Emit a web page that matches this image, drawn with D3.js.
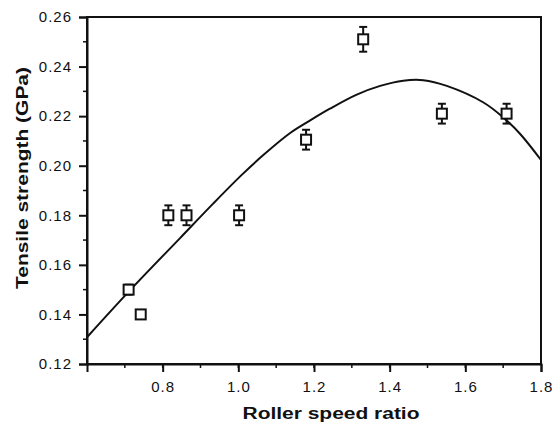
<!DOCTYPE html>
<html>
<head>
<meta charset="utf-8">
<script src="https://cdn.jsdelivr.net/npm/d3@7"></script>
<style>
  html, body { margin: 0; padding: 0; background: #fff; }
  svg { display: block; }
  .tick text { font-family: "Liberation Sans", Arial, sans-serif; letter-spacing: 1px; }
</style>
</head>
<body>
<svg id="chart" width="557" height="425"></svg>
<script>
// Measured tensile strength vs roller speed ratio
const speedRatio = [0.71, 0.742, 0.815, 0.863, 1.002, 1.179, 1.330, 1.538, 1.709];
const strength   = [0.150, 0.140, 0.180, 0.180, 0.180, 0.2105, 0.251, 0.221, 0.221];
const strengthErr = [0.002, 0, 0.004, 0.004, 0.004, 0.004, 0.005, 0.004, 0.004];

// Fitted trend curve, sampled along its length
const fitX = [0.60, 0.714, 0.846, 0.934, 1.009, 1.066, 1.137, 1.189, 1.242, 1.313, 1.375, 1.436, 1.489, 1.551, 1.648, 1.700, 1.745, 1.80];
const fitY = [0.1308, 0.1498, 0.1708, 0.1848, 0.1963, 0.2043, 0.2132, 0.2182, 0.2230, 0.2287, 0.2322, 0.2343, 0.2345, 0.2322, 0.2255, 0.2195, 0.2128, 0.2023];

const xTicks = [0.8, 1.0, 1.2, 1.4, 1.6, 1.8];
const yTicks = [0.12, 0.14, 0.16, 0.18, 0.20, 0.22, 0.24, 0.26];

const margin = { left: 87, right: 16, top: 17, bottom: 61 };
const W = 557, H = 425;
const svg = d3.select("#chart");

const x = d3.scaleLinear().domain([0.6, 1.8]).range([margin.left, W - margin.right]);
const y = d3.scaleLinear().domain([0.12, 0.26]).range([H - margin.bottom, margin.top]);

const ink = "#111";

// frame
svg.append("rect")
  .attr("x", x(0.6)).attr("y", y(0.26))
  .attr("width", x(1.8) - x(0.6)).attr("height", y(0.12) - y(0.26))
  .attr("fill", "none").attr("stroke", ink).attr("stroke-width", 2);

// minor ticks
const xMinor = d3.range(0.7, 1.8, 0.1);
svg.append("g").selectAll("line").data(xMinor).join("line")
  .attr("x1", d => x(d)).attr("x2", d => x(d))
  .attr("y1", y(0.12)).attr("y2", y(0.12) + 4)
  .attr("stroke", ink).attr("stroke-width", 1.5);
const yMinor = d3.range(0.13, 0.26, 0.02);
svg.append("g").selectAll("line").data(yMinor).join("line")
  .attr("x1", x(0.6) - 4).attr("x2", x(0.6))
  .attr("y1", d => y(d)).attr("y2", d => y(d))
  .attr("stroke", ink).attr("stroke-width", 1.5);

// axes
const xAxis = d3.axisBottom(x).tickValues(xTicks).tickFormat(d3.format(".1f")).tickSize(8).tickPadding(9);
const gx = svg.append("g").attr("transform", `translate(0,${y(0.12)})`).call(xAxis);
const yAxis = d3.axisLeft(y).tickValues(yTicks).tickFormat(d3.format(".2f")).tickSize(8).tickPadding(7);
const gy = svg.append("g").attr("transform", `translate(${x(0.6)},0)`).call(yAxis);
[gx, gy].forEach(g => {
  g.select(".domain").attr("stroke", ink).attr("stroke-width", 2);
  g.selectAll(".tick line").attr("stroke", ink).attr("stroke-width", 2);
  g.selectAll(".tick text").attr("fill", ink).attr("font-size", 15);
});

// axis titles
svg.append("text")
  .attr("x", 331).attr("y", 419)
  .attr("text-anchor", "middle")
  .attr("font-family", "Liberation Sans, Arial, sans-serif")
  .attr("font-weight", "bold").attr("font-size", 16)
  .attr("textLength", 177).attr("lengthAdjust", "spacingAndGlyphs")
  .attr("fill", ink)
  .text("Roller speed ratio");
svg.append("text")
  .attr("transform", "translate(28,178) rotate(-90)")
  .attr("text-anchor", "middle")
  .attr("font-family", "Liberation Sans, Arial, sans-serif")
  .attr("font-weight", "bold").attr("font-size", 16)
  .attr("textLength", 222).attr("lengthAdjust", "spacingAndGlyphs")
  .attr("fill", ink)
  .text("Tensile strength (GPa)");

// fitted curve
const fit = fitX.map((d, i) => [d, fitY[i]]);
svg.append("path")
  .datum(fit)
  .attr("fill", "none").attr("stroke", ink).attr("stroke-width", 2)
  .attr("d", d3.line().x(d => x(d[0])).y(d => y(d[1])).curve(d3.curveCatmullRom));

// data points with error bars
const pts = speedRatio.map((d, i) => ({ sx: d, st: strength[i], e: strengthErr[i] }));
const g = svg.append("g");
const cap = 4;
pts.forEach(p => {
  if (p.e > 0) {
    const cx = x(p.sx);
    const yt = y(p.st + p.e), yb = y(p.st - p.e);
    g.append("line").attr("x1", cx).attr("x2", cx).attr("y1", yt).attr("y2", yb)
      .attr("stroke", ink).attr("stroke-width", 2);
    [yt, yb].forEach(yy => g.append("line")
      .attr("x1", cx - cap).attr("x2", cx + cap).attr("y1", yy).attr("y2", yy)
      .attr("stroke", ink).attr("stroke-width", 2));
  }
});
const s = 10;
g.selectAll("rect").data(pts).join("rect")
  .attr("x", d => x(d.sx) - s / 2).attr("y", d => y(d.st) - s / 2)
  .attr("width", s).attr("height", s)
  .attr("fill", "#fff").attr("stroke", ink).attr("stroke-width", 2);
</script>
</body>
</html>
